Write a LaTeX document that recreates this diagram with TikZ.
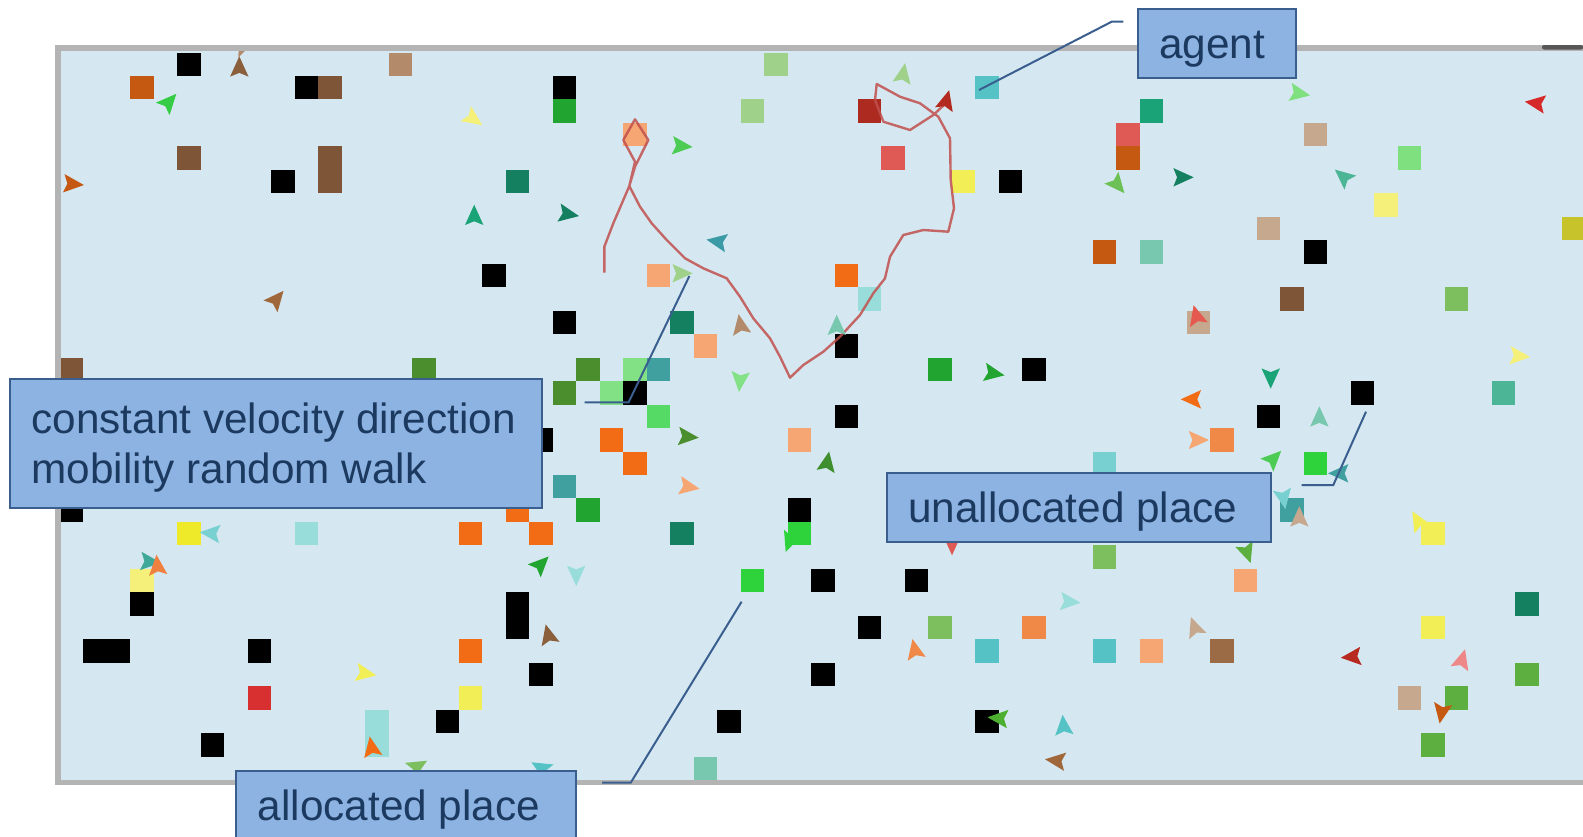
\documentclass[tikz,border=0pt]{standalone}
\usepackage{fontspec}
\setmainfont{Liberation Sans}
% world and frame
\definecolor{worldbg}{HTML}{D5E8F1}
\definecolor{framegray}{HTML}{B4B4B4}
\definecolor{framedark}{HTML}{575757}
% callouts
\definecolor{lblfill}{HTML}{8DB3E2}
\definecolor{lblline}{HTML}{3A5F8F}
\definecolor{lbltext}{HTML}{1C3A60}
\definecolor{trailred}{HTML}{C0504D}
% patch colours
\definecolor{blk}{HTML}{000000}
\definecolor{dorange}{HTML}{C65911}
\definecolor{brownA}{HTML}{7E5637}
\definecolor{tanA}{HTML}{B38B6A}
\definecolor{tanB}{HTML}{C6A88F}
\definecolor{grn}{HTML}{21A530}
\definecolor{dteal}{HTML}{148060}
\definecolor{mgreen}{HTML}{4A8E2E}
\definecolor{lgreen}{HTML}{82E185}
\definecolor{teal}{HTML}{40A0A0}
\definecolor{bgreen}{HTML}{55DA66}
\definecolor{orng}{HTML}{F26B15}
\definecolor{salmon}{HTML}{F6A673}
\definecolor{pgreen}{HTML}{9FD18B}
\definecolor{dred}{HTML}{AD2A20}
\definecolor{lred}{HTML}{E05A55}
\definecolor{yell}{HTML}{F2EE55}
\definecolor{cyan}{HTML}{55C3C5}
\definecolor{lcyan}{HTML}{99DDDA}
\definecolor{vgreen}{HTML}{2ED33C}
\definecolor{tgreen}{HTML}{1BA378}
\definecolor{ltgreen}{HTML}{78C8B0}
\definecolor{lgreenB}{HTML}{7FE07F}
\definecolor{pyell}{HTML}{F5F07A}
\definecolor{olive}{HTML}{C7C32A}
\definecolor{ygreen}{HTML}{7DBF5F}
\definecolor{tgreenB}{HTML}{4BB595}
\definecolor{lorange}{HTML}{F08848}
\definecolor{ltcyan}{HTML}{78D0D0}
\definecolor{mbrown}{HTML}{9B6B45}
\definecolor{sgreen}{HTML}{5DAF40}
\definecolor{redA}{HTML}{D83030}
\definecolor{vyell}{HTML}{EEEA2A}
% turtle colours
\definecolor{brownT}{HTML}{8B5E3C}
\definecolor{brownTB}{HTML}{A0683A}
\definecolor{bgreenT}{HTML}{33CC44}
\definecolor{grnT}{HTML}{4CCC55}
\definecolor{tealT}{HTML}{40A898}
\definecolor{orT}{HTML}{F08040}
\definecolor{dgreenT}{HTML}{3F8F2F}
\definecolor{leafT}{HTML}{4CAF30}
\definecolor{redT}{HTML}{D62A2A}
\definecolor{greenTB}{HTML}{6CC055}
\definecolor{tredT}{HTML}{E55A50}
\definecolor{agentred}{HTML}{B22A20}
\definecolor{pinkT}{HTML}{EE8888}
\definecolor{darkredT}{HTML}{B82A20}
\definecolor{tealTB}{HTML}{3A9AA5}

% one patch of the world grid: column, row, colour
\newcommand\gridpatch[3]{\fill[#3] ({60+#1*23.47},{52.5+#2*23.47}) rectangle ++(23.47,23.47);}
% one turtle (arrowhead): centre x, centre y, heading (clockwise from up), colour
\newcommand\agentmark[4]{\fill[#4, shift={(#1,#2)}, rotate=-#3] (0,-12) -- (9.2,8.3) -- (0,4.6) -- (-9.2,8.3) -- cycle;}

\tikzset{
  lblbox/.style={draw=lblline, fill=lblfill, line width=1pt, text=lbltext,
    font=\fontsize{21.15}{24.8}\selectfont, inner xsep=10.8pt, inner ysep=0pt,
    anchor=north west},
  onelbl/.style={lblbox, minimum height=34.5pt, text height=17.5pt, text depth=2.5pt},
  pointer/.style={draw=lblline, line width=1pt},
  trail/.style={draw=trailred, line width=1.2pt, line join=round, opacity=0.85}
}

\begin{document}
\begin{tikzpicture}[x=0.5pt, y=-0.5pt]
\useasboundingbox (0,0) rectangle (1583,836);
\fill[white] (0,0) rectangle (1583,836);

% view frame
\fill[framegray] (55,45) rectangle (1583,785);
\fill[worldbg] (61,51) rectangle (1583,780);
\fill[framedark, rounded corners=1pt] (1542,45) rectangle (1583,49.5);

\begin{scope}
\clip (61,51) rectangle (1583,780);
% patches
\foreach \i/\j/\c in {
 5/0/blk, 14/0/tanA, 30/0/pgreen,
 3/1/dorange, 10/1/blk, 11/1/brownA, 21/1/blk, 39/1/cyan,
 21/2/grn, 29/2/pgreen, 34/2/dred, 46/2/tgreen,
 24/3/salmon, 45/3/lred, 53/3/tanB,
 5/4/brownA, 11/4/brownA, 35/4/lred, 45/4/dorange, 57/4/lgreenB,
 9/5/blk, 11/5/brownA, 19/5/dteal, 38/5/yell, 40/5/blk,
 56/6/pyell,
 51/7/tanB, 64/7/olive,
 44/8/dorange, 46/8/ltgreen, 53/8/blk,
 18/9/blk, 25/9/salmon, 33/9/orng,
 34/10/lcyan, 52/10/brownA, 59/10/ygreen,
 21/11/blk, 26/11/dteal, 48/11/tanB,
 27/12/salmon, 33/12/blk,
 0/13/brownA, 15/13/mgreen, 22/13/mgreen, 24/13/lgreen, 25/13/teal, 37/13/grn, 41/13/blk,
 21/14/mgreen, 23/14/lgreen, 24/14/blk, 55/14/blk, 61/14/tgreenB,
 25/15/bgreen, 33/15/blk, 51/15/blk,
 20/16/blk, 23/16/orng, 31/16/salmon, 49/16/lorange,
 24/17/orng, 44/17/ltcyan, 53/17/vgreen,
 21/18/teal,
 0/19/blk, 19/19/orng, 22/19/grn, 31/19/blk, 52/19/teal,
 5/20/vyell, 10/20/lcyan, 17/20/orng, 20/20/orng, 26/20/dteal, 31/20/vgreen, 58/20/yell,
 44/21/ygreen,
 3/22/pyell, 29/22/vgreen, 32/22/blk, 36/22/blk, 50/22/salmon,
 3/23/blk, 19/23/blk, 62/23/dteal,
 19/24/blk, 34/24/blk, 37/24/ygreen, 41/24/lorange, 58/24/yell,
 1/25/blk, 2/25/blk, 8/25/blk, 17/25/orng, 39/25/cyan, 44/25/cyan, 46/25/salmon, 49/25/mbrown,
 20/26/blk, 32/26/blk, 62/26/sgreen,
 8/27/redA, 17/27/yell, 57/27/tanB, 59/27/sgreen,
 13/28/lcyan, 16/28/blk, 28/28/blk, 39/28/blk,
 6/29/blk, 13/29/lcyan, 58/29/sgreen,
 27/30/ltgreen}
 {\gridpatch{\i}{\j}{\c}}

% pen trail of the walking agent
\draw[trail] (604.3,272.7) -- (604.3,246.7) -- (613.3,223.3) -- (623.3,200)
 -- (629.3,186) -- (635,166.7) -- (648.3,140) -- (635,119.3) -- (623.3,140)
 -- (635,161.7) -- (629.3,186) -- (640,206.7) -- (651.7,223.3) -- (666.7,240)
 -- (685,258.3) -- (703.3,268.3) -- (726.7,278.3) -- (740,296.7) -- (753.3,318.3)
 -- (770,338.3) -- (780,356.7) -- (790,377.7) -- (803.3,365) -- (823.3,351.7)
 -- (840,336.7) -- (860,315) -- (873.3,293.3) -- (885,278.3) -- (890,256.7)
 -- (903.3,235) -- (923.3,230) -- (948.3,231.7) -- (954,208.3) -- (950.7,180)
 -- (950,138.3) -- (938.3,116.7) -- (920,103.3) -- (900,96.7) -- (876.7,84)
 -- (875,100) -- (883.3,121.7) -- (910,130) -- (933.3,115) -- (946,103);

% turtles
\foreach \x/\y/\h/\c in {
 243/46/70/tanA, 239.3/68.3/0/brownT, 168.3/102.7/42/bgreenT, 472.5/118.3/125/pyell,
 72/184/95/dorange, 474.2/216.7/0/tgreen, 567.2/214/100/dteal, 275.8/300/40/brownTB,
 903/75/10/pgreen, 946/101.7/15/agentred, 680.7/146/95/grnT, 718.3/241.7/280/tealTB,
 680.7/273.3/90/pgreen, 740.7/326/350/tanA, 836.7/326.7/0/ltgreen, 740/380/185/lgreen,
 992.7/373.3/100/grn, 211.6/533.3/275/ltcyan, 149/561.7/95/tealT, 157.5/566.7/355/orT,
 540.1/565/45/grn, 576.2/574/180/lcyan, 548.6/636/346/brownT, 364.4/673.3/100/yell,
 371.8/748.3/350/orng, 416.7/766.7/60/ygreen, 541.8/768.3/300/cyan,
 686.8/436.7/95/mgreen, 827/463.3/10/dgreenT, 687.8/486.7/100/salmon,
 789.8/540.7/200/vgreen, 952/543.3/180/lred, 1068.7/601.7/95/lcyan,
 915/650.7/348/lorange, 999.4/718.3/275/leafT, 1063.6/726.7/355/cyan,
 1056.9/760.7/277/brownTB, 1298.3/93.3/100/lgreenB, 1536.7/103.3/278/redT,
 1116.7/184/140/greenTB, 1181.7/177.3/90/dteal, 1344/177.3/310/tgreenB,
 1196.7/316.7/345/tredT, 1518.3/356/95/pyell, 1270.7/376.7/180/tgreen,
 1192.7/399.3/270/orng, 1319.3/418.3/0/ltgreen, 1197/440/90/salmon,
 1272.7/459.3/45/grnT, 1340/473.3/270/teal, 1283.3/497.3/170/ltcyan,
 1299.3/518.3/0/tanB, 1418.3/521.7/330/yell, 1246.7/551.7/161/sgreen,
 1195/628.3/340/tanB, 1352.7/656.7/265/darkredT, 1461.7/660.7/16/pinkT,
 1441.7/711.7/190/dorange}
 {\agentmark{\x}{\y}{\h}{\c}}
\end{scope}

% callout pointers
\coordinate (agentTip) at (979,90);
\coordinate (agentBend) at (1111.7,21.7);
\coordinate (agentEnd) at (1123.3,21.7);
\draw[pointer] (agentTip) -- (agentBend) -- (agentEnd);

\coordinate (walkTip) at (689.4,276);
\coordinate (walkBend) at (628.6,402.3);
\coordinate (walkEnd) at (584.5,402.3);
\draw[pointer] (walkTip) -- (walkBend) -- (walkEnd);

\coordinate (freeTip) at (1366,411.7);
\coordinate (freeBend) at (1333.3,485);
\coordinate (freeEnd) at (1301.7,485);
\draw[pointer] (freeTip) -- (freeBend) -- (freeEnd);

\coordinate (usedTip) at (741.6,601.7);
\coordinate (usedBend) at (630.7,782.7);
\coordinate (usedEnd) at (602.1,782.7);
\draw[pointer] (usedTip) -- (usedBend) -- (usedEnd);

% callout boxes
\node[onelbl] (agentlbl) at (1136.7,8.3) {\hbox to 57.55pt{agent\hss}};
\node[onelbl] (freelbl) at (885.7,471.7) {\hbox to 170.55pt{unallocated place\hss}};
\node[onelbl] (usedlbl) at (235.3,770) {\hbox to 148.05pt{allocated place\hss}};
\node[lblbox, minimum height=64.2pt, text height=42.3pt, text depth=2.5pt] (walklbl) at (9,378.3)
 {\vbox{\hbox to 244.3pt{constant velocity direction\hss}\hbox to 244.3pt{mobility random walk\hss}}};
\end{tikzpicture}
\end{document}
